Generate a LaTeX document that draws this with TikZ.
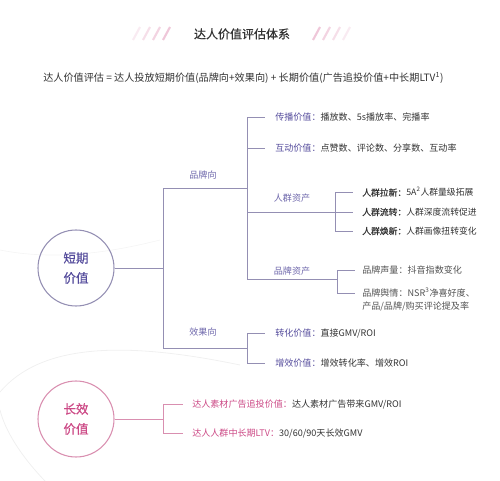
\documentclass[tikz,border=0pt]{standalone}
\usepackage{fontspec}
\setmainfont{Noto Sans CJK SC}
\newfontfamily\cubold[FakeBold=0.6]{Noto Sans CJK SC}
\usepackage{tikz}
\pgfdeclarelayer{bg}
\pgfsetlayers{bg,main}
\definecolor{zi}{HTML}{554C9C}
\definecolor{zline}{HTML}{948FB3}
\definecolor{fen}{HTML}{CC4A86}
\definecolor{fline}{HTML}{D98FB0}
\definecolor{hei}{HTML}{333333}

\begin{document}
\begin{tikzpicture}[x=0.75pt,y=-0.75pt,
        txt/.style={anchor=west,inner sep=0pt,font=\fontsize{6.8}{8}\selectfont,text=hei},
        sub/.style={inner sep=0pt,font=\fontsize{6.8}{8}\selectfont,text=zi!85},
        zl/.style={draw=zline,line width=0.6pt},
        fl/.style={draw=fline,line width=0.6pt},
        gap/.style={shorten >=#1}]
        \useasboundingbox (0,0) rectangle (500,481);
        % background swirls
        \draw[gray!12,line width=0.6pt] (0,392) .. controls (40,345) and (120,340) .. (240,365);
        \draw[gray!12,line width=0.6pt] (45,481) .. controls (20,455) and (5,430) .. (0,410);
        \draw[gray!8,line width=0.5pt] (0,250) .. controls (60,262) and (120,250) .. (160,240);
        % title
        \node (t0) [font=\cubold\fontsize{9}{11}\selectfont,text=hei] at (242,34) {达人价值评估体系};
        \foreach \x/\o in {133/0.2,143/0.32,153/0.44,163/0.56}
                \draw[fen!55,line width=1.6pt,opacity=\o] (\x,40) -- (\x+7,27);
        \foreach \x/\o in {313/0.56,323/0.44,333/0.32,343/0.2}
                \draw[fen!55,line width=1.6pt,opacity=\o] (\x,40) -- (\x+7,27);
        \node (f0) [anchor=west,inner sep=0pt,font=\fontsize{7.6}{9}\selectfont,text=hei] at (43,78)
                {达人价值评估 = 达人投放短期价值(品牌向+效果向) + 长期价值(广告追投价值+中长期LTV\textsuperscript{1})};
        % short term
        \node (s0) [circle,draw=zline,line width=0.8pt,minimum size=57pt,align=center,
                font=\cubold\fontsize{9.4}{15}\selectfont,text=zi] at (76,268) {短期\\价值};
        \coordinate (b0) at (163,268);
        \coordinate (pp) at (247,188);
        \coordinate (xg) at (247,348);
        \coordinate (rq) at (335,212);
        \coordinate (pz) at (337,279);
        \node (pl) [sub] at (203,175) {品牌向};
        \node (xl) [sub] at (203,332) {效果向};
        \node (rl) [sub] at (292,198) {人群资产};
        \node (zl) [sub] at (292,271) {品牌资产};
        \node (c1) [txt] at (275,117) {\textcolor{zi}{传播价值：}播放数、5s播放率、完播率};
        \node (c2) [txt] at (275,148) {\textcolor{zi}{互动价值：}点赞数、评论数、分享数、互动率};
        \node (r1) [txt,font=\fontsize{6.6}{8}\selectfont] at (362,192) {{\cubold 人群拉新：}5A\textsuperscript{2}人群量级拓展};
        \node (r2) [txt,font=\fontsize{6.6}{8}\selectfont] at (362,212) {{\cubold 人群流转：}人群深度流转促进};
        \node (r3) [txt,font=\fontsize{6.6}{8}\selectfont] at (362,231) {{\cubold 人群焕新：}人群画像扭转变化};
        \node (q1) [txt,text=hei!85] at (362,270) {品牌声量：抖音指数变化};
        \node (q2) [txt,text=hei!85] at (362,293) {品牌舆情：NSR\textsuperscript{3}净喜好度、};
        \node (q3) [txt,text=hei!85] at (362,306) {产品/品牌/购买评论提及率};
        \node (z1) [txt] at (275,333) {\textcolor{zi}{转化价值：}直接GMV/ROI};
        \node (z2) [txt] at (275,363) {\textcolor{zi}{增效价值：}增效转化率、增效ROI};
        % long term
        \node (l0) [circle,draw=fline,line width=0.8pt,minimum size=57pt,align=center,
                font=\cubold\fontsize{9.4}{15}\selectfont,text=fen] at (76,419) {长效\\价值};
        \coordinate (lq) at (163,419);
        \node (d1) [txt] at (192,404) {\textcolor{fen}{达人素材广告追投价值：}达人素材广告带来GMV/ROI};
        \node (d2) [txt] at (192,433) {\textcolor{fen}{达人人群中长期LTV：}30/60/90天长效GMV};
        \begin{pgfonlayer}{bg}
                \draw[zl] (s0) -- (b0);
                \draw[zl] (b0) |- (pp);
                \draw[zl] (b0) |- (xg);
                \draw[zl,gap=7.5pt] (pp) |- (c1.west);
                \draw[zl,gap=7.5pt] (pp) |- (c2.west);
                \draw[zl] (pp) |- (rq);
                \draw[zl] (pp) |- (pz);
                \draw[zl,gap=6.75pt] (rq) |- (r1.west);
                \draw[zl,gap=6.75pt] (rq) -- (r2.west);
                \draw[zl,gap=6.75pt] (rq) |- (r3.west);
                \draw[zl,gap=5.25pt] (pz) |- (q1.west);
                \draw[zl,gap=5.25pt] (pz) |- (q2.west);
                \draw[zl,gap=7.5pt] (xg) |- (z1.west);
                \draw[zl,gap=7.5pt] (xg) |- (z2.west);
                \draw[fl] (l0) -- (lq);
                \draw[fl,gap=6.75pt] (lq) |- (d1.west);
                \draw[fl,gap=6.75pt] (lq) |- (d2.west);
        \end{pgfonlayer}
\end{tikzpicture}
\end{document}
